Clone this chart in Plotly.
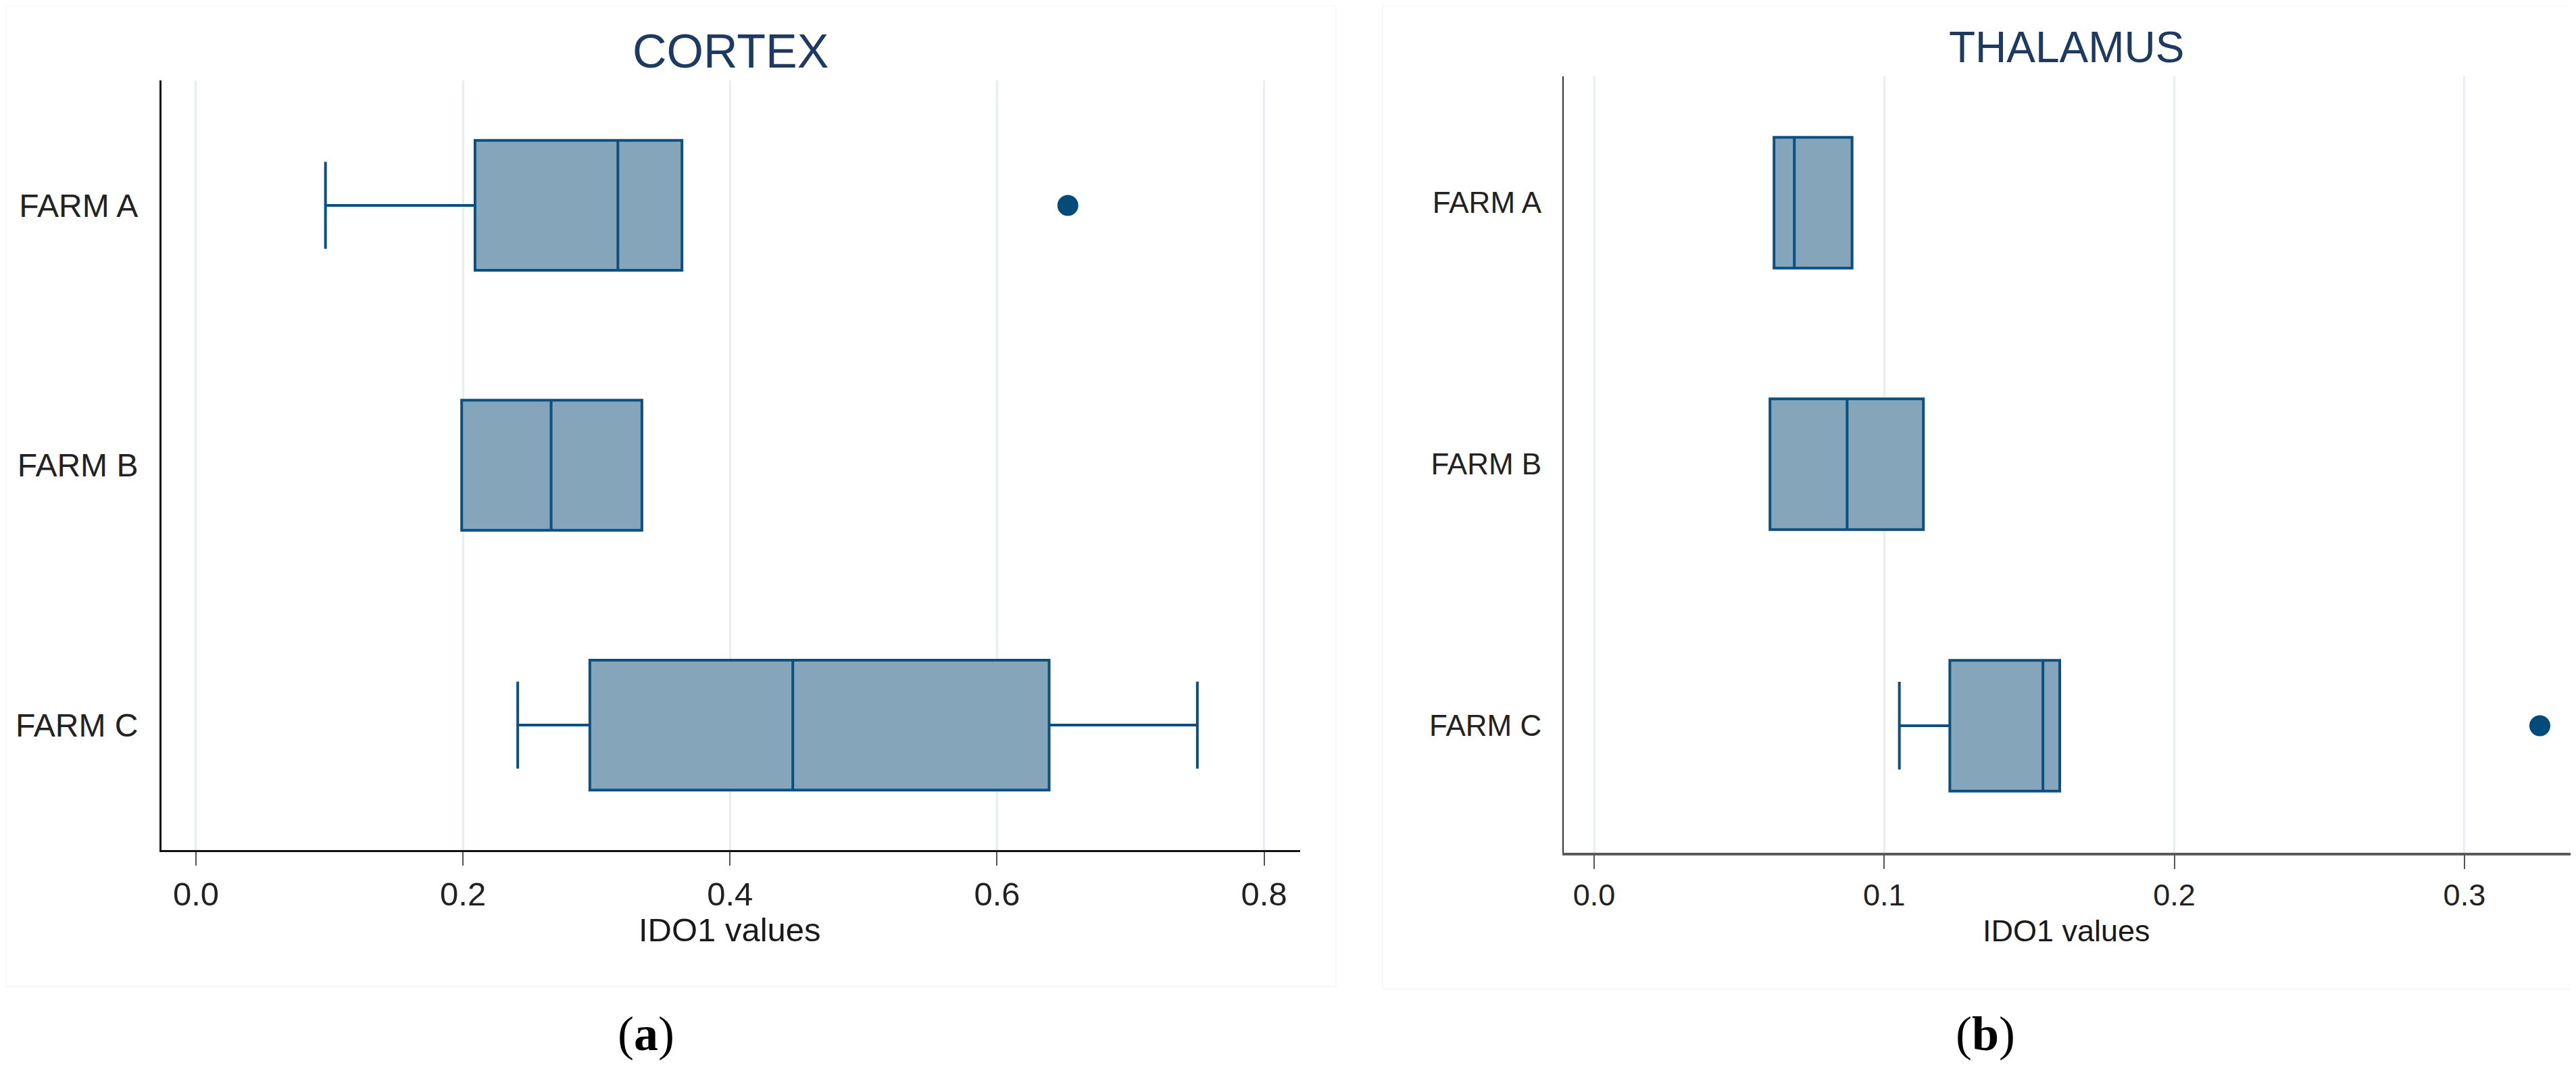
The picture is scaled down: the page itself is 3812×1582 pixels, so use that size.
import plotly.graph_objects as go

W, H = 3812, 1582

# ---------------- data ----------------
categories = ["FARM A", "FARM B", "FARM C"]
positions = [0, 1, 2]

cortex_lower = [0.097, 0.199, 0.241]
cortex_q1 = [0.209, 0.199, 0.295]
cortex_median = [0.316, 0.266, 0.447]
cortex_q3 = [0.364, 0.334, 0.639]
cortex_upper = [0.364, 0.334, 0.750]
cortex_outlier_x = [0.653]
cortex_outlier_cat = [0]

thal_lower = [0.0620, 0.0606, 0.1052]
thal_q1 = [0.0620, 0.0606, 0.1226]
thal_median = [0.0690, 0.0872, 0.1547]
thal_q3 = [0.0889, 0.1135, 0.1605]
thal_upper = [0.0889, 0.1135, 0.1605]
thal_outlier_x = [0.326]
thal_outlier_cat = [2]

cortex_ticks = [0.0, 0.2, 0.4, 0.6, 0.8]
cortex_ticktext = ["0.0", "0.2", "0.4", "0.6", "0.8"]
thal_ticks = [0.0, 0.1, 0.2, 0.3]
thal_ticktext = ["0.0", "0.1", "0.2", "0.3"]

# ---------------- style ----------------
FILL = "#85a5bb"
LINE = "#0b5080"
DOT = "#034b7a"
GRID = "#e6eff1"
TITLE_C = "#1d3a63"
SANS = "Liberation Sans, Arial, sans-serif"
NARROW = "Liberation Sans Narrow, Arial Narrow, Liberation Sans, Arial, sans-serif"


def px(x):
    return x / W


def py(y):
    return 1 - y / H


fig = go.Figure()

fig.add_trace(go.Box(
    orientation="h", y=positions,
    q1=cortex_q1, median=cortex_median, q3=cortex_q3,
    lowerfence=cortex_lower, upperfence=cortex_upper,
    fillcolor=FILL, line=dict(color=LINE, width=4),
    width=0.5, whiskerwidth=0.67, boxpoints=False,
    xaxis="x", yaxis="y", showlegend=False, hoverinfo="skip",
))
fig.add_trace(go.Scatter(
    x=cortex_outlier_x, y=cortex_outlier_cat, mode="markers",
    marker=dict(size=31, color=DOT), xaxis="x", yaxis="y", showlegend=False,
))

fig.add_trace(go.Box(
    orientation="h", y=positions,
    q1=thal_q1, median=thal_median, q3=thal_q3,
    lowerfence=thal_lower, upperfence=thal_upper,
    fillcolor=FILL, line=dict(color=LINE, width=4),
    width=0.5, whiskerwidth=0.67, boxpoints=False,
    xaxis="x2", yaxis="y2", showlegend=False, hoverinfo="skip",
))
fig.add_trace(go.Scatter(
    x=thal_outlier_x, y=thal_outlier_cat, mode="markers",
    marker=dict(size=31, color=DOT), xaxis="x2", yaxis="y2", showlegend=False,
))

xcommon = dict(
    showgrid=True, gridcolor=GRID, gridwidth=3, zeroline=False,
    showline=True, ticks="outside", ticklen=20, tickwidth=2, tickcolor="#555555",
)
ycommon = dict(
    showgrid=False, zeroline=False, showline=True, ticks="",
    tickvals=positions, ticktext=categories,
)

fig.update_layout(
    width=W, height=H,
    margin=dict(l=0, r=0, t=0, b=0),
    paper_bgcolor="white", plot_bgcolor="white",
    xaxis=dict(domain=[px(231), px(1916)], range=[-0.0258, 0.827],
               tickvals=cortex_ticks, ticktext=cortex_ticktext,
               linecolor="#111111", linewidth=3,
               tickfont=dict(family=SANS, size=49, color="#222222"),
               anchor="y", **xcommon),
    yaxis=dict(domain=[py(1250), py(111)], range=[2.481, -0.481],
               linecolor="#111111", linewidth=3, anchor="x",
               tickfont=dict(family=SANS, size=48, color="#222222"),
               ticklabelstandoff=22, **ycommon),
    xaxis2=dict(domain=[px(2306), px(3796)], range=[-0.0105, 0.3366],
                tickvals=thal_ticks, ticktext=thal_ticktext,
                linecolor="#5a5a5a", linewidth=4,
                tickfont=dict(family=NARROW, size=45, color="#222222"),
                anchor="y2", **xcommon),
    yaxis2=dict(domain=[py(1254), py(105)], range=[2.486, -0.483],
                linecolor="#333333", linewidth=2, anchor="x2",
                tickfont=dict(family=NARROW, size=44, color="#222222"),
                ticklabelstandoff=22, **ycommon),
)

annos = [
    dict(text="CORTEX", x=px(1073), y=py(68), font=dict(family=SANS, size=70, color=TITLE_C)),
    dict(text="THALAMUS", x=px(3050), y=py(62), font=dict(family=NARROW, size=64, color=TITLE_C)),
    dict(text="IDO1 values", x=px(1072), y=py(1368), font=dict(family=SANS, size=49, color="#1a1a1a")),
    dict(text="IDO1 values", x=px(3050), y=py(1369), font=dict(family=NARROW, size=45, color="#1a1a1a")),
    dict(text="(<b>a</b>)", x=px(948), y=py(1522), font=dict(family="Liberation Serif, Times New Roman, serif", size=72, color="black")),
    dict(text="(<b>b</b>)", x=px(2930), y=py(1522), font=dict(family="Liberation Serif, Times New Roman, serif", size=72, color="black")),
]
for a in annos:
    fig.add_annotation(xref="paper", yref="paper", showarrow=False,
                       xanchor="center", yanchor="middle", **a)

# faint panel frames
fig.add_shape(type="rect", xref="paper", yref="paper",
              x0=px(0), x1=px(1969), y0=py(1452), y1=py(0),
              line=dict(color="#f5f8f9", width=2), layer="below")
fig.add_shape(type="rect", xref="paper", yref="paper",
              x0=px(2038), x1=px(3812), y0=py(1456), y1=py(0),
              line=dict(color="#f5f8f9", width=2), layer="below")

fig.write_html("out.html")
